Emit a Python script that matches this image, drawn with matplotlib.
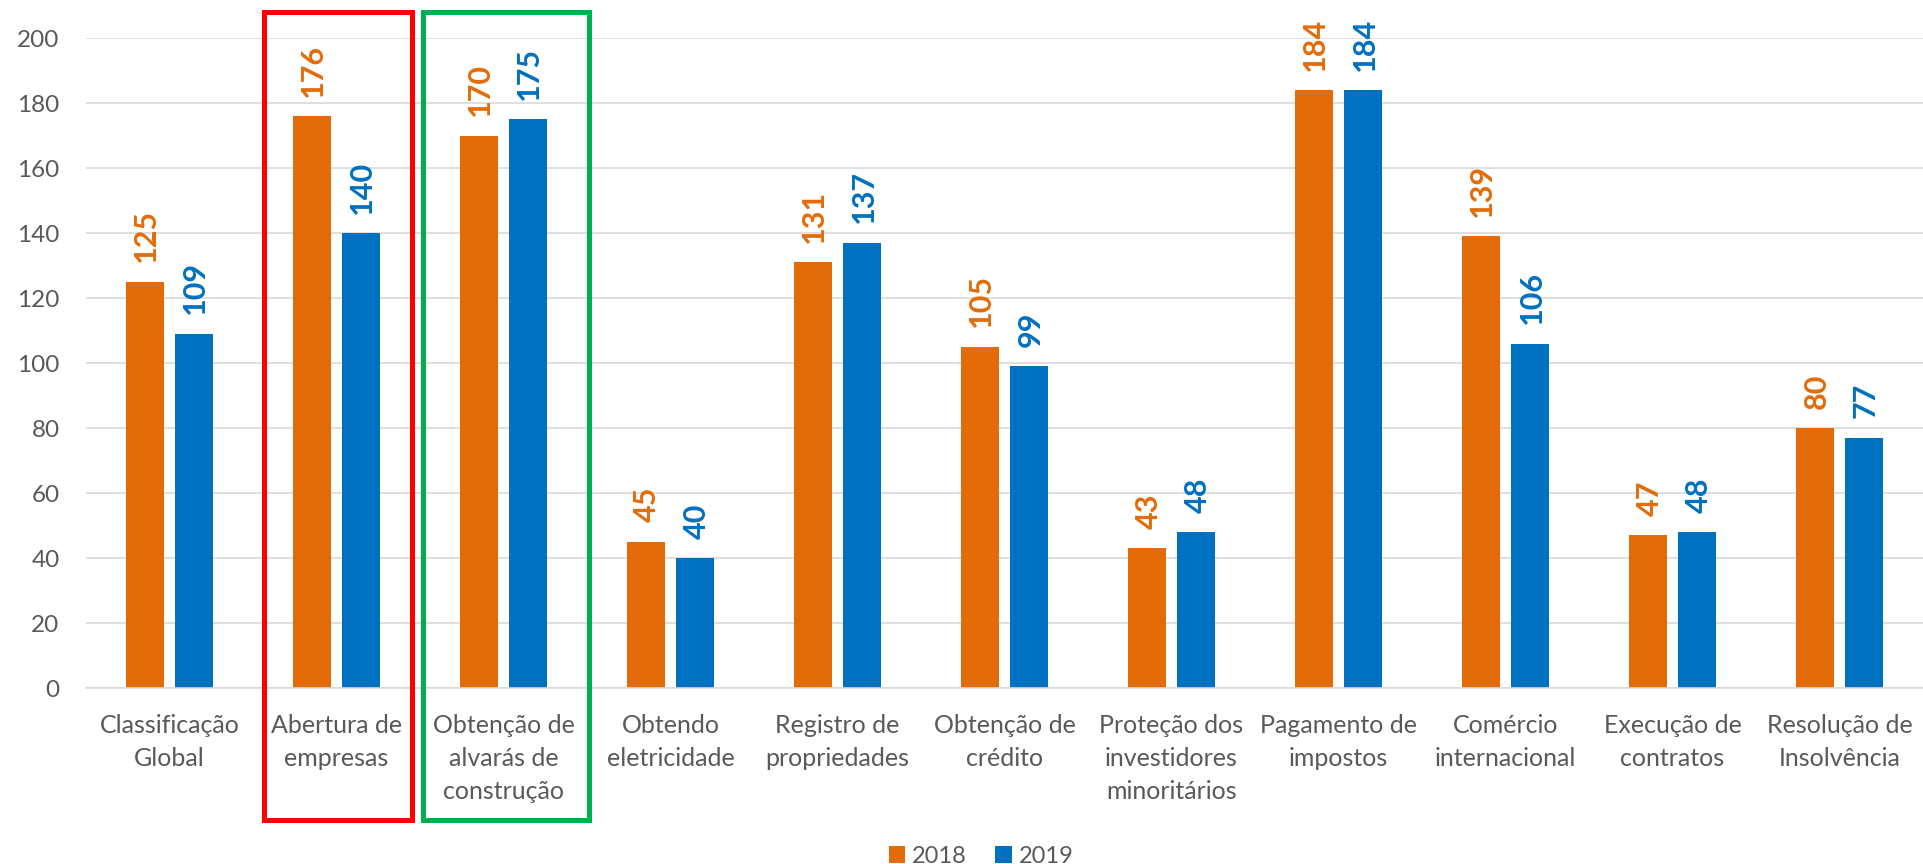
import matplotlib.pyplot as plt
import matplotlib.transforms as mtransforms
from matplotlib.patches import Rectangle
import numpy as np

categorias = ["Classificação\nGlobal", "Abertura de\nempresas",
              "Obtenção de\nalvarás de\nconstrução", "Obtendo\neletricidade",
              "Registro de\npropriedades", "Obtenção de\ncrédito",
              "Proteção dos\ninvestidores\nminoritários", "Pagamento de\nimpostos",
              "Comércio\ninternacional", "Execução de\ncontratos",
              "Resolução de\nInsolvência"]
valores_2018 = [125, 176, 170, 45, 131, 105, 43, 184, 139, 47, 80]
valores_2019 = [109, 140, 175, 40, 137, 99, 48, 184, 106, 48, 77]
anos = ["2018", "2019"]
destaques = [1, 2]
cores_destaque = ["#FF0000", "#00B050"]

laranja = "#E36C09"
azul = "#0070C0"
cinza = "#595959"


def main():
    plt.rcParams['font.family'] = ['Lato', 'DejaVu Sans']

    fig = plt.figure(figsize=(19.24, 8.64), dpi=100)
    ax = fig.add_axes([0.0447, 0.2037, 0.9548, 0.7523])

    x = np.arange(len(categorias))
    larg = 0.226
    desl = 0.147
    b1 = ax.bar(x - desl, valores_2018, larg, color=laranja, label=anos[0])
    b2 = ax.bar(x + desl, valores_2019, larg, color=azul, label=anos[1])

    for barras, cor in ((b1, laranja), (b2, azul)):
        for b in barras:
            ax.annotate(str(int(b.get_height())),
                        (b.get_x() + b.get_width() / 2, b.get_height()),
                        xytext=(1, 14), textcoords='offset points',
                        rotation=90, ha='center', va='bottom',
                        fontsize=22, fontweight='bold', color=cor,
                        annotation_clip=False)

    ax.set_xlim(-0.5, len(categorias) - 0.5)
    ax.set_ylim(0, 200)
    ax.set_yticks(range(0, 201, 20))
    ax.set_xticks(x)
    ax.set_xticklabels(categorias, linespacing=1.52, fontsize=18)
    ax.tick_params(axis='both', length=0, colors=cinza)
    ax.tick_params(axis='y', pad=19, labelsize=17.5)
    ax.tick_params(axis='x', pad=19)

    ax.yaxis.grid(True, color='#D9D9D9', linewidth=1.2)
    ax.set_axisbelow(True)
    for s in ['top', 'right', 'left']:
        ax.spines[s].set_visible(False)
    ax.spines['bottom'].set_color('#D9D9D9')
    ax.spines['bottom'].set_linewidth(1.2)

    # caixas de destaque
    trans = mtransforms.blended_transform_factory(ax.transData, fig.transFigure)
    extensoes = [(-0.434, 0.452), (-0.482, 0.512)]
    for i, cor, (e0, e1) in zip(destaques, cores_destaque, extensoes):
        r = Rectangle((i + e0, 0.051), e1 - e0, 0.935, transform=trans,
                      fill=False, edgecolor=cor, linewidth=3.6, clip_on=False)
        fig.add_artist(r)

    fig.legend(loc='center', bbox_to_anchor=(0.51, 0.009), ncol=2,
               frameon=False, fontsize=17, handlelength=0.7, handleheight=0.7,
               handletextpad=0.3, columnspacing=1.2, labelcolor=cinza)

    fig.savefig("out.png", dpi=100)


if __name__ == "__main__":
    main()
